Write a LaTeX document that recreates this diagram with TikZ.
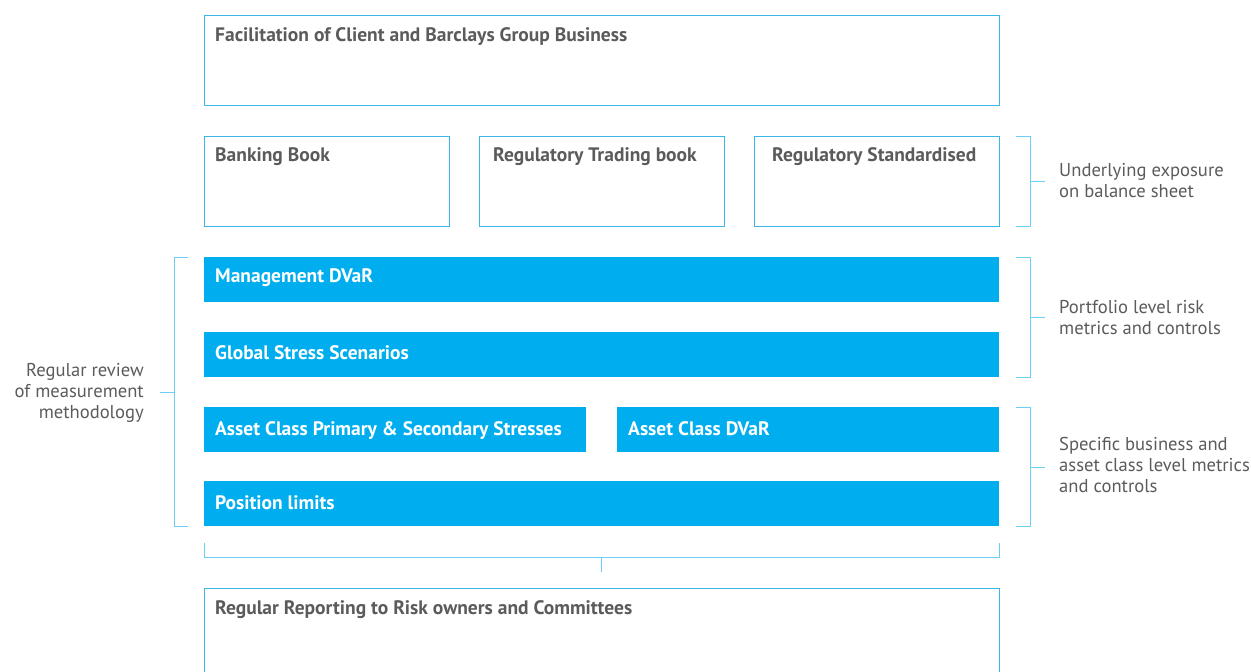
\documentclass[tikz,border=0pt]{standalone}
\usepackage{fontspec}
\setmainfont{PT Sans}
\usetikzlibrary{calc}
\definecolor{boxline}{HTML}{3BB6E8}
\definecolor{barblue}{HTML}{00AEEF}
\definecolor{brk}{HTML}{6CCFF6}
\definecolor{txt}{HTML}{5B5B5B}
\begin{document}
\begin{tikzpicture}[x=1pt,y=-1pt,
  box/.style={draw=boxline,line width=1pt,fill=white,anchor=north west,inner sep=0pt},
  bar/.style={fill=barblue,draw=none,anchor=north west,inner sep=0pt},
  ttl/.style={anchor=base west,inner sep=0pt,text=txt,font=\fontsize{19.5}{22}\selectfont\bfseries},
  wtl/.style={anchor=base west,inner sep=0pt,text=white,font=\fontsize{19.5}{22}\selectfont\bfseries},
  side/.style={inner sep=0pt,text=txt,font=\fontsize{18.6}{21}\selectfont},
  bracket/.style={draw=brk,line width=1pt}]
\useasboundingbox (0,0) rectangle (1251,672);
% top box
\node[box,minimum width=795pt,minimum height=90pt] (top) at (204,15) {};
\node[ttl] (toptx) at (215,41) {Facilitation of Client and Barclays Group Business};
% row 2
\node[box,minimum width=245pt,minimum height=90pt] (bb) at (204,136) {};
\node[box,minimum width=245pt,minimum height=90pt] (rt) at (479,136) {};
\node[box,minimum width=245pt,minimum height=90pt] (rs) at (754,136) {};
\node[ttl] (bbtx) at (215,161) {Banking Book};
\node[ttl] (rttx) at (493,161) {Regulatory Trading book};
\node[ttl] (rstx) at (772,161) {Regulatory Standardised};
% blue bars
\node[bar,minimum width=795pt,minimum height=45pt] (md) at (204,257) {};
\node[bar,minimum width=795pt,minimum height=45pt] (gs) at (204,332) {};
\node[bar,minimum width=382pt,minimum height=45pt] (ac) at (204,407) {};
\node[bar,minimum width=382pt,minimum height=45pt] (ad) at (617,407) {};
\node[bar,minimum width=795pt,minimum height=45pt] (pl) at (204,481) {};
\node[wtl] (mdtx) at (215,282) {Management DVaR};
\node[wtl] (gstx) at (215,359) {Global Stress Scenarios};
\node[wtl] (actx) at (215,435) {Asset Class Primary \& Secondary Stresses};
\node[wtl] (adtx) at (628,435) {Asset Class DVaR};
\node[wtl] (pltx) at (215,509) {Position limits};
% bottom box
\node[box,minimum width=795pt,minimum height=100pt] (rep) at (204,588) {};
\node[ttl] (reptx) at (215,614) {Regular Reporting to Risk owners and Committees};
% right brackets
\draw[bracket] (1016,136) -- (1030,136) -- (1030,226) -- (1016,226);
\draw[bracket] (1030,181) -- (1045,181);
\node[side,anchor=west,align=left] (l1) at (1059,181) {Underlying exposure\\on balance sheet};
\draw[bracket] (1016,257) -- (1030,257) -- (1030,377) -- (1016,377);
\draw[bracket] (1030,317) -- (1045,317);
\node[side,anchor=west,align=left] (l2) at (1059,318) {Portfolio level risk\\metrics and controls};
\draw[bracket] (1016,407) -- (1030,407) -- (1030,526) -- (1016,526);
\draw[bracket] (1030,467) -- (1045,467);
\node[side,anchor=west,align=left] (l3) at (1059,465) {Specific business and\\asset class level metrics\\and controls};
% left bracket
\draw[bracket] (188,257) -- (174,257) -- (174,526) -- (188,526);
\draw[bracket] (174,392) -- (160,392);
\node[side,anchor=east,align=right] (l4) at (144,393) {Regular review\\of measurement\\methodology};
% bottom bracket
\draw[bracket] (204,543) -- (204,557) -- (999,557) -- (999,543);
\draw[bracket] (601,557) -- (601,572);
\end{tikzpicture}
\end{document}
